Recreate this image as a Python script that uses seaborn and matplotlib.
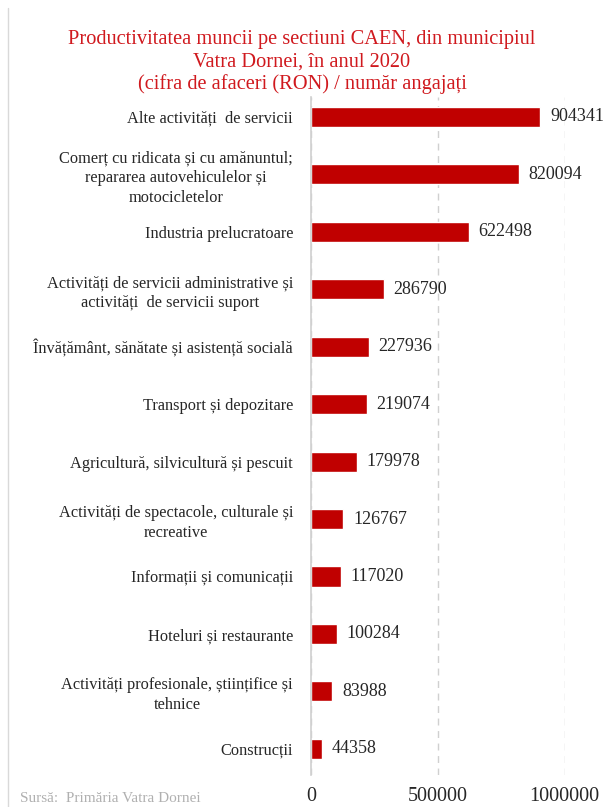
import matplotlib
matplotlib.use("Agg")
import pandas as pd
import seaborn as sns
import matplotlib.pyplot as plt

categories = [
    "Alte activități  de servicii",
    "Comerț cu ridicata și cu amănuntul;\nrepararea autovehiculelor și\nmotocicletelor",
    "Industria prelucratoare",
    "Activități de servicii administrative și\nactivități  de servicii suport",
    "Învățământ, sănătate și asistență socială",
    "Transport și depozitare",
    "Agricultură, silvicultură și pescuit",
    "Activități de spectacole, culturale și\nrecreative",
    "Informații și comunicații",
    "Hoteluri și restaurante",
    "Activități profesionale, științifice și\ntehnice",
    "Construcții",
]
values = [904341, 820094, 622498, 286790, 227936, 219074, 179978, 126767, 117020, 100284, 83988, 44358]
xticks = [0, 500000, 1000000]

df = pd.DataFrame({"cat": categories, "val": values})

sns.set_style("white")
plt.rcParams["font.family"] = ["Liberation Serif", "DejaVu Serif"]

fig = plt.figure(figsize=(6.04, 8.07), dpi=100)
ax = fig.add_axes([0.515, 0.04, 0.42, 0.84])

sns.barplot(data=df, x="val", y="cat", color="#C00000", saturation=1, width=0.35, ax=ax)
ax.bar_label(ax.containers[0], labels=[str(v) for v in values], padding=7,
             fontsize=13, color="#262626")

ax.set_xlim(0, 1000000)
ax.set_ylim(11.45, -0.35)
ax.set_xticks(xticks)
ax.set_xticklabels([str(t) for t in xticks], fontsize=14.5, color="#262626")
ax.tick_params(axis="y", length=0, pad=13, labelsize=11.8, labelcolor="#262626")
ax.tick_params(axis="x", length=0, pad=9)
ax.set_xlabel("")
ax.set_ylabel("")
ax.grid(axis="x", color="#D0D0D0", linestyle=(0, (5, 4)), linewidth=1)
ax.set_axisbelow(True)
for s in ["top", "right", "bottom"]:
    ax.spines[s].set_visible(False)
ax.spines["left"].set_color("#D0D0D0")
ax.spines["left"].set_linewidth(1.2)
for lbl in ax.get_yticklabels():
    lbl.set_multialignment("center")
    lbl.set_linespacing(1.3)

fig.text(0.5, 0.923,
         "Productivitatea muncii pe sectiuni CAEN, din municipiul\nVatra Dornei, în anul 2020\n(cifra de afaceri (RON) / număr angajați",
         ha="center", va="center", color="#D0191E", fontsize=14.7, linespacing=1.2)
fig.text(0.033, 0.011, "Sursă:  Primăria Vatra Dornei", color="#B0B0B0", fontsize=11, ha="left", va="center")

# thin frame line on the left
fig.add_artist(plt.Line2D([0.014, 0.014], [0.0, 0.99], color="#D9D9D9", linewidth=1, transform=fig.transFigure))

fig.savefig("out.png", dpi=100)
